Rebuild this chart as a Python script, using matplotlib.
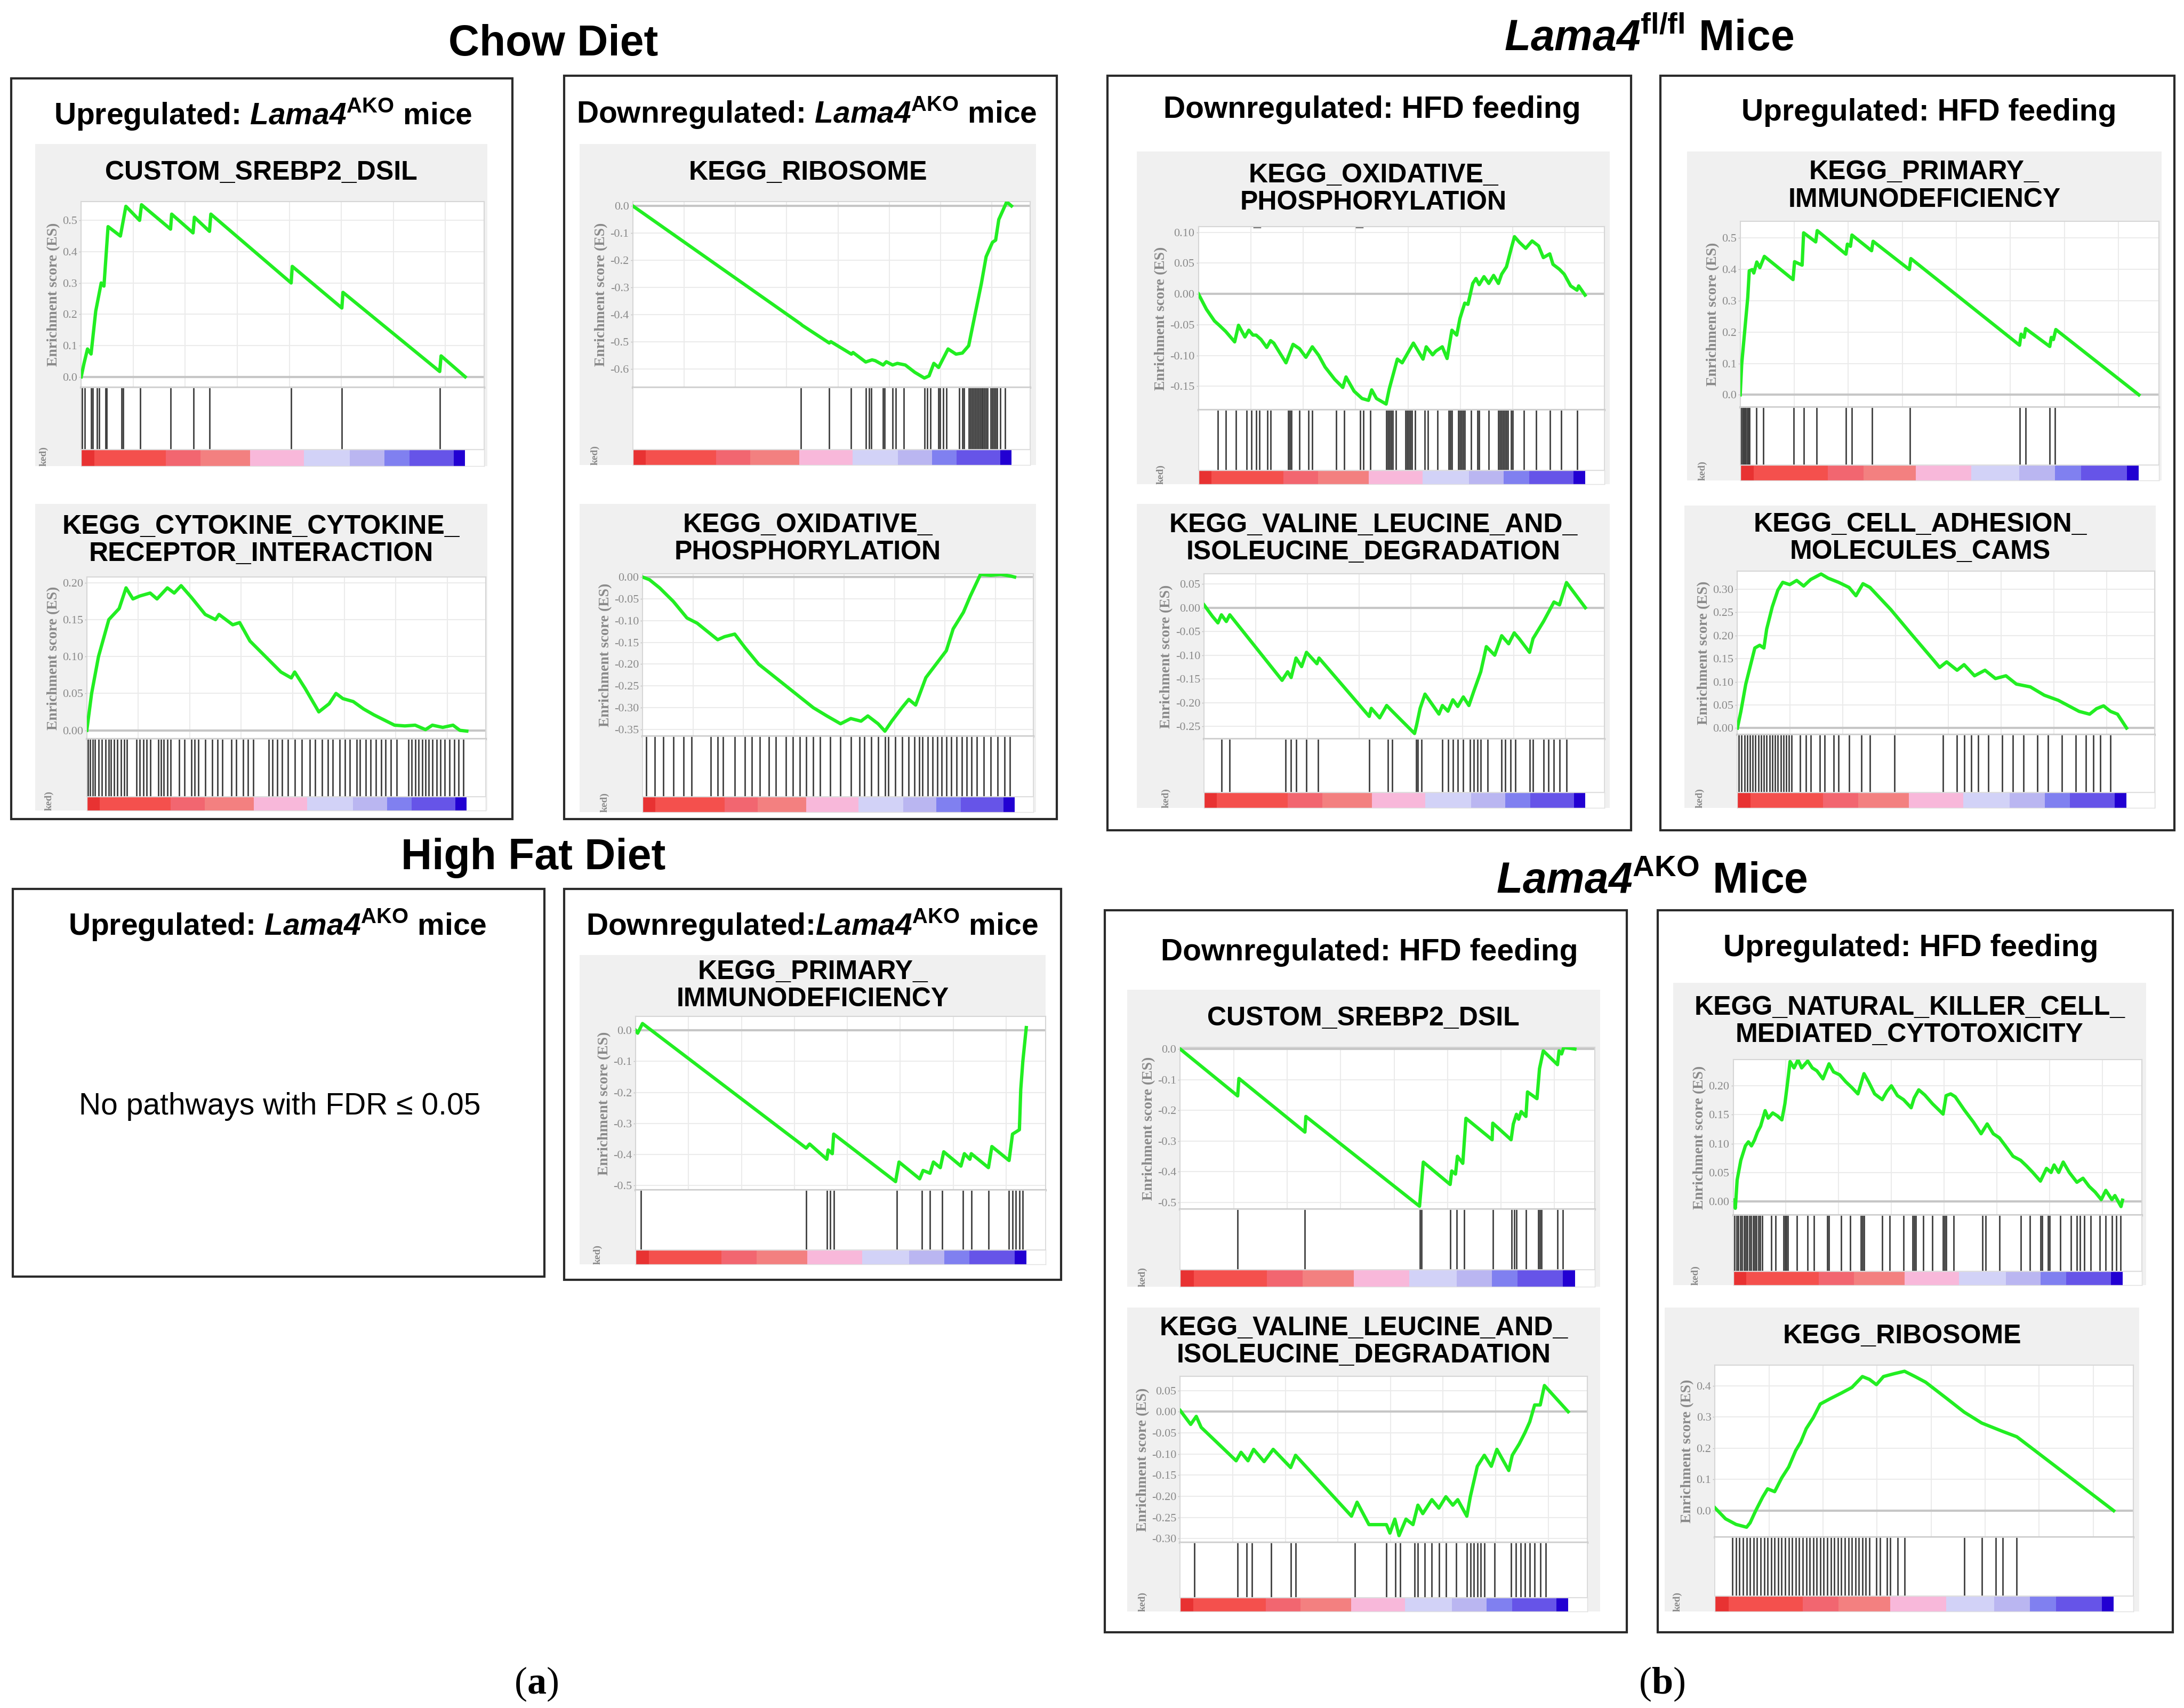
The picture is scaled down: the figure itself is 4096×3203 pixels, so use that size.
import numpy as np
import matplotlib.pyplot as plt
from matplotlib.patches import Rectangle

plt.rcParams['font.family'] = ['Liberation Sans', 'DejaVu Sans']
plt.rcParams['mathtext.fontset'] = 'custom'
plt.rcParams['mathtext.rm'] = 'Liberation Sans:italic:bold'
plt.rcParams['mathtext.sf'] = 'Liberation Sans:bold'
plt.rcParams['mathtext.bf'] = 'Liberation Serif:bold'

# ---- data (rank position in list, enrichment score) ----
# (a) chow diet, upregulated
srebp2_chow_rank = [42, 52, 65, 78, 95, 115, 125, 140, 185, 205, 255, 262, 368, 372, 450, 455,
                    510, 515, 808, 812, 993, 997, 1350, 1355, 1443]
srebp2_chow_es = [0.0, 0.042, 0.089, 0.073, 0.21, 0.30, 0.29, 0.48, 0.45, 0.545, 0.50, 0.55, 0.472,
                  0.52, 0.46, 0.51, 0.465, 0.52, 0.30, 0.353, 0.22, 0.27, 0.017, 0.067, 0.0]
srebp2_chow_hits = [45, 55, 78, 85, 100, 108, 130, 135, 190, 196, 258, 368, 452, 510, 808, 993, 1350]
srebp2_chow_span = (42, 1443)

cytokine_rank = [128, 135, 145, 160, 175, 185, 195, 205, 220, 230, 245, 255, 265, 280, 300, 315,
                 320, 340, 350, 365, 380, 395, 410, 425, 430, 445, 465, 480, 490, 500, 515, 530,
                 545, 560, 575, 590, 605, 620, 630, 645, 660, 670, 680]
cytokine_es = [0.0, 0.05, 0.10, 0.15, 0.165, 0.193, 0.178, 0.182, 0.186, 0.178, 0.193, 0.186, 0.196,
               0.18, 0.157, 0.15, 0.157, 0.143, 0.146, 0.121, 0.107, 0.093, 0.079, 0.071, 0.079,
               0.057, 0.025, 0.036, 0.05, 0.043, 0.039, 0.029, 0.021, 0.014, 0.007, 0.006, 0.007,
               0.001, 0.007, 0.004, 0.007, 0.0, -0.001]
cytokine_hits = [130, 133, 137, 140, 145, 150, 155, 160, 163, 168, 172, 178, 182, 186, 200, 205, 210,
                 215, 220, 232, 236, 240, 245, 250, 262, 270, 280, 285, 290, 300, 310, 318, 325, 338,
                 345, 355, 362, 370, 392, 398, 405, 412, 420, 430, 440, 452, 460, 470, 478, 485, 495,
                 503, 510, 520, 525, 533, 540, 548, 556, 562, 570, 578, 595, 600, 605, 610, 615, 620,
                 625, 630, 636, 642, 648, 655, 662, 668, 675]
cytokine_span = (128, 680)

# (a) chow diet, downregulated
ribo_chow_rank = [210, 740, 745, 830, 835, 900, 905, 945, 965, 975, 1000, 1010, 1030, 1045, 1070,
                  1100, 1130, 1145, 1160, 1175, 1205, 1230, 1250, 1270, 1290, 1310, 1325, 1345,
                  1355, 1365, 1390, 1405]
ribo_chow_es = [0.0, -0.435, -0.44, -0.505, -0.50, -0.546, -0.54, -0.575, -0.567, -0.57, -0.586,
                -0.574, -0.586, -0.58, -0.586, -0.613, -0.634, -0.626, -0.58, -0.595, -0.527,
                -0.546, -0.542, -0.515, -0.40, -0.286, -0.187, -0.134, -0.126, -0.05, 0.015, 0.0]
ribo_chow_hits = [740, 830, 898, 945, 955, 962, 1000, 1005, 1030, 1040, 1065, 1130, 1140, 1150, 1175,
                  1180, 1190, 1200, 1240, 1250, 1255, 1270, 1275, 1280, 1285, 1290, 1295, 1300, 1305,
                  1310, 1315, 1320, 1325, 1330, 1340, 1345, 1350, 1355, 1360, 1370, 1385]
ribo_chow_span = (210, 1405)

oxphos_chow_rank = [940, 950, 965, 985, 1005, 1020, 1035, 1050, 1060, 1075, 1090, 1110, 1130, 1150,
                    1170, 1190, 1210, 1230, 1245, 1260, 1270, 1285, 1295, 1305, 1320, 1330, 1340,
                    1355, 1370, 1385, 1395, 1410, 1420, 1435, 1450, 1465, 1480, 1485]
oxphos_chow_es = [0.0, -0.006, -0.025, -0.056, -0.094, -0.106, -0.125, -0.144, -0.137, -0.131,
                  -0.162, -0.2, -0.225, -0.25, -0.275, -0.3, -0.319, -0.337, -0.325, -0.331, -0.319,
                  -0.337, -0.354, -0.331, -0.3, -0.281, -0.294, -0.231, -0.2, -0.169, -0.119, -0.081,
                  -0.044, 0.006, 0.004, 0.006, 0.002, 0.0]
oxphos_chow_hits = [945, 958, 970, 985, 1000, 1012, 1040, 1050, 1058, 1075, 1090, 1100, 1112, 1125,
                    1135, 1150, 1160, 1170, 1180, 1190, 1200, 1215, 1230, 1245, 1258, 1265, 1275, 1285,
                    1295, 1300, 1310, 1320, 1330, 1338, 1345, 1350, 1358, 1365, 1372, 1378, 1385, 1392,
                    1400, 1408, 1415, 1422, 1430, 1440, 1450, 1460, 1470, 1478]
oxphos_chow_span = (940, 1485)

# (a) high fat diet, downregulated
primary_hfd_rank = [932, 935, 942, 1180, 1185, 1210, 1212, 1218, 1220, 1310, 1315, 1345, 1350, 1360,
                    1365, 1375, 1380, 1405, 1410, 1418, 1420, 1445, 1450, 1475, 1480, 1490, 1492,
                    1495, 1500]
primary_hfd_es = [0.0, -0.009, 0.022, -0.379, -0.366, -0.415, -0.385, -0.397, -0.334, -0.487, -0.424,
                  -0.478, -0.451, -0.46, -0.424, -0.442, -0.391, -0.437, -0.397, -0.415, -0.397,
                  -0.442, -0.374, -0.419, -0.334, -0.32, -0.19, -0.1, 0.009]
primary_hfd_hits = [940, 1180, 1210, 1215, 1220, 1312, 1348, 1360, 1378, 1408, 1420, 1445, 1475, 1480,
                    1485, 1490, 1495]
primary_hfd_span = (932, 1500)

# (b) Lama4 fl/fl mice
oxphos_fl_rank = [205, 230, 255, 270, 290, 318, 330, 350, 362, 375, 385, 400, 418, 430, 440, 460, 478,
                  500, 520, 540, 560, 580, 600, 630, 655, 665, 690, 715, 735, 745, 760, 790, 800, 812,
                  825, 840, 875, 905, 915, 935, 945, 965, 980, 995, 1010, 1020, 1035, 1045, 1060,
                  1070, 1080, 1095, 1110, 1125, 1140, 1150, 1165, 1180, 1190, 1205, 1225, 1245,
                  1265, 1280, 1300, 1310, 1330, 1345, 1365, 1385, 1390, 1410]
oxphos_fl_es = [0.0, -0.025, -0.044, -0.051, -0.061, -0.078, -0.051, -0.070, -0.059, -0.067, -0.067,
                -0.074, -0.087, -0.076, -0.080, -0.097, -0.112, -0.082, -0.089, -0.103, -0.086, -0.10,
                -0.119, -0.139, -0.152, -0.135, -0.158, -0.17, -0.173, -0.156, -0.17, -0.179, -0.154,
                -0.131, -0.106, -0.112, -0.080, -0.106, -0.086, -0.099, -0.093, -0.086, -0.105,
                -0.059, -0.067, -0.04, -0.015, -0.017, 0.017, 0.025, 0.015, 0.028, 0.017, 0.030,
                0.017, 0.032, 0.044, 0.074, 0.093, 0.084, 0.074, 0.086, 0.078, 0.059, 0.065, 0.048,
                0.040, 0.032, 0.013, 0.006, 0.013, -0.002]
oxphos_fl_hits = [265, 290, 322, 355, 370, 385, 395, 420, 430, 485, 490, 495, 520, 548, 560, 635, 660,
                  710, 720, 740, 790, 795, 800, 805, 810, 820, 850, 855, 860, 865, 870, 880, 910, 920,
                  950, 985, 990, 995, 1015, 1020, 1025, 1030, 1035, 1055, 1075, 1080, 1110, 1140,
                  1145, 1150, 1155, 1160, 1165, 1170, 1180, 1185, 1220, 1258, 1300, 1335, 1385]
oxphos_fl_span = (205, 1410)

valine_fl_rank = [158, 170, 178, 183, 190, 195, 270, 278, 283, 290, 298, 305, 320, 323, 395, 398, 410,
                  420, 428, 460, 463, 468, 475, 495, 500, 508, 515, 522, 530, 538, 545, 555, 563, 575,
                  585, 595, 603, 610, 625, 630, 645, 660, 668, 678, 705]
valine_fl_es = [0.006, -0.018, -0.032, -0.015, -0.029, -0.015, -0.153, -0.135, -0.147, -0.106, -0.124,
                -0.094, -0.118, -0.106, -0.229, -0.212, -0.232, -0.206, -0.218, -0.265, -0.247,
                -0.212, -0.182, -0.224, -0.206, -0.218, -0.194, -0.208, -0.188, -0.206, -0.176,
                -0.135, -0.082, -0.1, -0.059, -0.076, -0.053, -0.065, -0.094, -0.065, -0.029, 0.012,
                0.006, 0.053, 0.0]
valine_fl_hits = [183, 195, 275, 283, 290, 305, 322, 395, 422, 428, 462, 465, 470, 500, 508, 515, 522,
                  530, 540, 545, 550, 555, 565, 585, 590, 598, 605, 625, 630, 645, 652, 660, 668, 678]
valine_fl_span = (158, 705)

primary_fl_rank = [175, 180, 190, 200, 205, 215, 220, 230, 240, 255, 350, 355, 380, 385, 425, 430, 525,
                   530, 540, 545, 610, 615, 735, 740, 1100, 1105, 1115, 1120, 1200, 1205, 1212, 1220,
                   1495]
primary_fl_es = [0.0, 0.098, 0.204, 0.31, 0.395, 0.399, 0.388, 0.423, 0.405, 0.441, 0.367, 0.424,
                 0.413, 0.516, 0.487, 0.523, 0.448, 0.48, 0.473, 0.509, 0.459, 0.489, 0.399, 0.434,
                 0.158, 0.193, 0.183, 0.211, 0.154, 0.183, 0.176, 0.208, 0.0]
primary_fl_hits = [178, 182, 186, 190, 194, 198, 202, 206, 228, 252, 352, 385, 428, 525, 545, 612, 737,
                   1100, 1120, 1200, 1218]
primary_fl_span = (175, 1495)

cams_fl_rank = [920, 925, 932, 940, 945, 952, 958, 962, 970, 978, 985, 995, 1005, 1015, 1025, 1040,
                1050, 1065, 1080, 1090, 1100, 1110, 1140, 1170, 1200, 1210, 1220, 1235, 1245, 1260,
                1275, 1290, 1305, 1320, 1340, 1360, 1380, 1395, 1410, 1425, 1435, 1445, 1455, 1465,
                1478]
cams_fl_es = [0.0, 0.036, 0.095, 0.143, 0.173, 0.179, 0.173, 0.214, 0.262, 0.298, 0.315, 0.310,
              0.319, 0.307, 0.321, 0.333, 0.324, 0.315, 0.304, 0.286, 0.312, 0.304, 0.256, 0.202,
              0.149, 0.131, 0.143, 0.125, 0.137, 0.113, 0.125, 0.107, 0.113, 0.095, 0.089, 0.071,
              0.06, 0.048, 0.036, 0.03, 0.042, 0.048, 0.036, 0.030, 0.0]
cams_fl_hits = [922, 926, 930, 934, 938, 942, 946, 950, 954, 958, 962, 966, 970, 974, 978, 982, 986,
                990, 994, 998, 1010, 1018, 1025, 1038, 1045, 1058, 1065, 1080, 1098, 1110, 1145, 1215,
                1235, 1245, 1255, 1265, 1280, 1300, 1315, 1330, 1350, 1365, 1385, 1405, 1420, 1430,
                1440, 1455]
cams_fl_span = (920, 1478)

# (b) Lama4 AKO mice
srebp2_ako_rank = [180, 362, 366, 575, 578, 938, 950, 1035, 1040, 1052, 1058, 1075, 1085, 1168, 1170,
                   1228, 1235, 1245, 1252, 1260, 1275, 1280, 1310, 1318, 1330, 1375, 1380, 1388,
                   1395, 1430]
srebp2_ako_es = [0.0, -0.153, -0.096, -0.271, -0.22, -0.513, -0.369, -0.442, -0.398, -0.408, -0.35,
                 -0.373, -0.226, -0.296, -0.242, -0.296, -0.245, -0.213, -0.229, -0.204, -0.22, -0.14,
                 -0.162, -0.064, -0.006, -0.051, -0.006, -0.016, 0.006, 0.0]
srebp2_ako_hits = [362, 575, 940, 945, 1035, 1055, 1080, 1170, 1230, 1238, 1245, 1275, 1315, 1320,
                   1325, 1375, 1392]
srebp2_ako_span = (180, 1430)

valine_ako_rank = [125, 140, 148, 155, 205, 212, 222, 230, 245, 258, 283, 290, 370, 378, 395, 420,
                   425, 432, 438, 448, 458, 465, 472, 485, 495, 505, 515, 522, 535, 540, 550, 560,
                   570, 578, 595, 600, 610, 618, 625, 632, 640, 646, 680]
valine_ako_es = [0.003, -0.03, -0.011, -0.037, -0.116, -0.096, -0.116, -0.089, -0.118, -0.089,
                 -0.132, -0.103, -0.247, -0.214, -0.267, -0.267, -0.287, -0.254, -0.293, -0.254,
                 -0.267, -0.221, -0.241, -0.208, -0.228, -0.201, -0.221, -0.208, -0.247, -0.201,
                 -0.129, -0.103, -0.129, -0.089, -0.139, -0.103, -0.076, -0.05, -0.024, 0.016,
                 0.016, 0.062, 0.0]
valine_ako_hits = [145, 207, 220, 228, 255, 283, 290, 375, 420, 433, 440, 460, 465, 475, 485, 495, 505,
                   520, 535, 540, 545, 550, 555, 560, 575, 598, 605, 612, 618, 625, 632, 640, 648]
valine_ako_span = (125, 680)

nk_rank = [205, 212, 218, 230, 245, 255, 265, 275, 285, 295, 310, 320, 335, 350, 365, 375, 385, 392,
           405, 418, 430, 450, 465, 480, 500, 520, 535, 555, 575, 595, 615, 635, 650, 670, 695, 710,
           725, 745, 765, 790, 800, 815, 835, 860, 895, 905, 920, 935, 965, 995, 1020, 1040, 1060,
           1080, 1100, 1125, 1150, 1170, 1190, 1215, 1235, 1250, 1260, 1275, 1290, 1310, 1335, 1355,
           1375, 1395, 1415, 1430, 1450, 1460, 1480, 1485]
nk_es = [0.002, -0.012, 0.037, 0.071, 0.096, 0.103, 0.096, 0.106, 0.12, 0.13, 0.157, 0.144, 0.153,
         0.148, 0.141, 0.169, 0.211, 0.242, 0.231, 0.245, 0.231, 0.243, 0.231, 0.226, 0.212, 0.238,
         0.224, 0.219, 0.207, 0.197, 0.186, 0.221, 0.207, 0.186, 0.176, 0.19, 0.2, 0.183, 0.176,
         0.162, 0.179, 0.193, 0.184, 0.169, 0.151, 0.183, 0.186, 0.181, 0.158, 0.137, 0.117, 0.134,
         0.117, 0.110, 0.096, 0.078, 0.071, 0.061, 0.05, 0.035, 0.057, 0.05, 0.063, 0.05, 0.068,
         0.05, 0.033, 0.04, 0.026, 0.016, 0.003, 0.019, 0.003, 0.01, -0.009, 0.002]
nk_hits = [210, 216, 222, 228, 234, 240, 246, 252, 258, 264, 270, 276, 282, 288, 294, 300, 330, 345,
           370, 375, 380, 385, 415, 450, 470, 515, 520, 560, 590, 625, 630, 635, 695, 720, 765, 795,
           800, 805, 830, 860, 895, 900, 905, 930, 1025, 1035, 1080, 1150, 1180, 1215, 1220, 1240,
           1245, 1280, 1315, 1335, 1345, 1360, 1380, 1410, 1430, 1450, 1465, 1478]
nk_span = (205, 1485)

ribo_ako_rank = [890, 905, 920, 935, 940, 948, 958, 965, 975, 985, 995, 1005, 1012, 1020, 1030, 1040,
                 1055, 1070, 1085, 1100, 1110, 1120, 1130, 1145, 1160, 1175, 1190, 1220, 1245, 1270,
                 1300, 1320, 1458]
ribo_ako_es = [0.009, -0.026, -0.044, -0.053, -0.039, 0.0, 0.044, 0.07, 0.061, 0.105, 0.14, 0.193,
               0.219, 0.263, 0.298, 0.342, 0.36, 0.377, 0.395, 0.43, 0.421, 0.404, 0.43, 0.439, 0.447,
               0.43, 0.412, 0.36, 0.316, 0.281, 0.254, 0.237, 0.0]
ribo_ako_hits = [915, 920, 925, 930, 935, 940, 945, 950, 955, 960, 965, 970, 975, 980, 985, 990, 995,
                 1000, 1005, 1010, 1015, 1020, 1025, 1030, 1035, 1040, 1045, 1050, 1055, 1060, 1065,
                 1070, 1075, 1080, 1085, 1090, 1095, 1100, 1105, 1110, 1120, 1125, 1135, 1140, 1150,
                 1160, 1245, 1270, 1290, 1300, 1320]
ribo_ako_span = (890, 1458)

# ranked-list colour bar (fraction of list, colour)
bar_edges = [0, 0.034, 0.22, 0.31, 0.44, 0.58, 0.70, 0.79, 0.855, 0.97, 1.0]
bar_colors = ['#e83232', '#f4504d', '#f26670', '#f38080', '#f8b8da', '#d2d2f7', '#bab6f1',
              '#8080f0', '#6654e8', '#2200d2']

# ---- figure ----
W, H = 1560.0, 1220.0
fig = plt.figure(figsize=(40.96, 32.03), dpi=100)
GREEN = '#22ee22'
GRAY_TXT = '#8a8a8a'


def frect(x0, y0, x1, y1):
    return [x0 / W, 1 - y1 / H, (x1 - x0) / W, (y1 - y0) / H]


def put(x, y, s, **kw):
    fig.text(x / W, 1 - y / H, s, **kw)


def box(x0, y0, x1, y1, **kw):
    fig.add_artist(Rectangle((x0 / W, 1 - y1 / H), (x1 - x0) / W, (y1 - y0) / H,
                             transform=fig.transFigure, **kw))


def gsea(geo, title, rank, es, hits, span, yticks, ylim, fmt, ext=1.05):
    hx0, hy0, hx1, hy1, ax0, ax1, es_bot, hit_bot, bar_bot = geo
    box(hx0, hy0, hx1, bar_bot, fc='#f0f0f0', ec='none', zorder=-5)
    put((hx0 + hx1) / 2, (hy0 + hy1) / 2, title, ha='center', va='center',
        fontsize=36, weight='bold', linespacing=1.15)
    L = span[1] - span[0]
    xlim = (span[0], span[0] + L * ext)
    grid_x = span[0] + L * 0.1355 * np.arange(1, 8)

    # running enrichment score
    ax = fig.add_axes(frect(ax0, hy1, ax1, es_bot))
    ax.set_facecolor('white')
    for gx in grid_x:
        ax.axvline(gx, color='#ebebeb', lw=1.5, zorder=0)
    ax.set_yticks(yticks)
    ax.yaxis.grid(True, color='#ebebeb', lw=1.5)
    ax.set_axisbelow(True)
    ax.axhline(0, color='#c6c6c6', lw=3, zorder=1)
    ax.plot(rank, es, color=GREEN, lw=4.5, zorder=3)
    ax.set_xlim(xlim)
    ax.set_ylim(ylim)
    ax.set_xticks([])
    ax.set_yticklabels([fmt % t for t in yticks], family='Liberation Serif', fontsize=16,
                       color=GRAY_TXT)
    ax.tick_params(axis='y', length=3, width=1, color='#c0c0c0', pad=2)
    ax.set_ylabel('Enrichment score (ES)', family='Liberation Serif', weight='bold',
                  fontsize=20, color=GRAY_TXT, labelpad=3)
    for s in ax.spines.values():
        s.set_color('#d6d6d6')
        s.set_linewidth(1.5)
    ax.spines['bottom'].set_color('#c6c6c6')
    ax.spines['bottom'].set_linewidth(3)

    # hit positions
    hx = fig.add_axes(frect(ax0, es_bot, ax1, hit_bot))
    hx.vlines(hits, 0, 1, color='#404040', lw=2.0)
    hx.set_xlim(xlim)
    hx.set_ylim(0, 1)
    hx.set_xticks([])
    hx.set_yticks([])
    for s in hx.spines.values():
        s.set_color('#d6d6d6')
        s.set_linewidth(1.2)

    # ranked list metric bar
    bx = fig.add_axes(frect(ax0, hit_bot, ax1, bar_bot))
    for e0, e1, c in zip(bar_edges[:-1], bar_edges[1:], bar_colors):
        bx.axvspan(span[0] + e0 * L, span[0] + e1 * L, color=c, lw=0)
    bx.set_xlim(xlim)
    bx.set_xticks([])
    bx.set_yticks([])
    for s in bx.spines.values():
        s.set_color('#e0e0e0')
        s.set_linewidth(1.0)
    put(ax0 - 27, bar_bot, 'ked)', rotation=90, ha='center', va='bottom',
        family='Liberation Serif', weight='bold', fontsize=14, color=GRAY_TXT)


# section titles
put(395, 39.5, 'Chow Diet', ha='center', va='baseline', fontsize=58, weight='bold')
put(381, 621, 'High Fat Diet', ha='center', va='baseline', fontsize=58, weight='bold')
put(1178, 36, r'$\mathrm{Lama4}^{\mathsf{fl/fl}}$ Mice', ha='center', va='baseline',
    fontsize=58, weight='bold')
put(1180, 638, r'$\mathrm{Lama4}^{\mathsf{AKO}}$ Mice', ha='center', va='baseline',
    fontsize=58, weight='bold')

# outer boxes
for b in [(8, 56, 366, 585), (403, 54, 755, 585), (9, 635, 389, 912), (403, 635, 758, 914),
          (791, 54, 1165, 593), (1186, 54, 1553, 593), (789, 650, 1162, 1166),
          (1184, 650, 1552, 1166)]:
    box(*b, fill=False, ec='#2a2a2a', lw=3, zorder=2)

ako = r'$\mathrm{Lama4}^{\mathsf{AKO}}$'
subs = [(188, 89, 'Upregulated: ' + ako + ' mice'),
        (576, 88, 'Downregulated: ' + ako + ' mice'),
        (198, 668, 'Upregulated: ' + ako + ' mice'),
        (580, 668, 'Downregulated:' + ako + ' mice'),
        (980, 84, 'Downregulated: HFD feeding'),
        (1378, 86, 'Upregulated: HFD feeding'),
        (978, 686, 'Downregulated: HFD feeding'),
        (1365, 683, 'Upregulated: HFD feeding')]
for x, y, s in subs:
    put(x, y, s, ha='center', va='baseline', fontsize=41, weight='bold')

put(200, 796, 'No pathways with FDR \u2264 0.05', ha='center', va='baseline', fontsize=41)

# GSEA panels
t1 = [0.0, 0.1, 0.2, 0.3, 0.4, 0.5]
gsea((25, 103, 348, 144, 58, 346, 277, 321, 333), 'CUSTOM_SREBP2_DSIL',
     srebp2_chow_rank, srebp2_chow_es, srebp2_chow_hits, srebp2_chow_span,
     t1, (-0.035, 0.56), '%.1f')
gsea((25, 360, 348, 412, 62, 347, 528, 569, 579), 'KEGG_CYTOKINE_CYTOKINE_\nRECEPTOR_INTERACTION',
     cytokine_rank, cytokine_es, cytokine_hits, cytokine_span,
     [0.0, 0.05, 0.10, 0.15, 0.20], (-0.012, 0.208), '%.2f')
gsea((414, 103, 740, 144, 452, 736, 277, 321, 332), 'KEGG_RIBOSOME',
     ribo_chow_rank, ribo_chow_es, ribo_chow_hits, ribo_chow_span,
     [-0.6, -0.5, -0.4, -0.3, -0.2, -0.1, 0.0], (-0.67, 0.016), '%.1f')
gsea((414, 360, 740, 410, 459, 738, 526, 569, 580), 'KEGG_OXIDATIVE_\nPHOSPHORYLATION',
     oxphos_chow_rank, oxphos_chow_es, oxphos_chow_hits, oxphos_chow_span,
     [-0.35, -0.30, -0.25, -0.20, -0.15, -0.10, -0.05, 0.0], (-0.366, 0.007), '%.2f')
gsea((414, 682, 747, 726, 454, 747, 850, 893, 903), 'KEGG_PRIMARY_\nIMMUNODEFICIENCY',
     primary_hfd_rank, primary_hfd_es, primary_hfd_hits, primary_hfd_span,
     [-0.5, -0.4, -0.3, -0.2, -0.1, 0.0], (-0.514, 0.045), '%.1f')

gsea((812, 108, 1150, 162, 856, 1146, 293, 336, 346), 'KEGG_OXIDATIVE_\nPHOSPHORYLATION',
     oxphos_fl_rank, oxphos_fl_es, oxphos_fl_hits, oxphos_fl_span,
     [-0.15, -0.10, -0.05, 0.0, 0.05, 0.10], (-0.189, 0.109), '%.2f')
put(898, 163, '_', ha='center', va='bottom', fontsize=18, color='#555555')
put(971, 163, '_', ha='center', va='bottom', fontsize=18, color='#555555')
gsea((812, 360, 1150, 410, 860, 1146, 528, 566, 577), 'KEGG_VALINE_LEUCINE_AND_\nISOLEUCINE_DEGRADATION',
     valine_fl_rank, valine_fl_es, valine_fl_hits, valine_fl_span,
     [-0.25, -0.20, -0.15, -0.10, -0.05, 0.0, 0.05], (-0.277, 0.071), '%.2f')
gsea((1205, 108, 1544, 158, 1243, 1542, 291, 332, 343), 'KEGG_PRIMARY_\nIMMUNODEFICIENCY',
     primary_fl_rank, primary_fl_es, primary_fl_hits, primary_fl_span,
     t1, (-0.04, 0.553), '%.1f')
gsea((1203, 361, 1540, 408, 1241, 1539, 525, 566, 577), 'KEGG_CELL_ADHESION_\nMOLECULES_CAMS',
     cams_fl_rank, cams_fl_es, cams_fl_hits, cams_fl_span,
     [0.0, 0.05, 0.10, 0.15, 0.20, 0.25, 0.30], (-0.015, 0.339), '%.2f', ext=1.072)

gsea((805, 707, 1143, 748, 843, 1139, 864, 907, 919), 'CUSTOM_SREBP2_DSIL',
     srebp2_ako_rank, srebp2_ako_es, srebp2_ako_hits, srebp2_ako_span,
     [-0.5, -0.4, -0.3, -0.2, -0.1, 0.0], (-0.524, 0.006), '%.1f')
gsea((805, 934, 1143, 983, 843, 1134, 1102, 1141, 1151), 'KEGG_VALINE_LEUCINE_AND_\nISOLEUCINE_DEGRADATION',
     valine_ako_rank, valine_ako_es, valine_ako_hits, valine_ako_span,
     [-0.30, -0.25, -0.20, -0.15, -0.10, -0.05, 0.0, 0.05], (-0.31, 0.084), '%.2f')
gsea((1195, 702, 1533, 757, 1238, 1530, 868, 908, 918), 'KEGG_NATURAL_KILLER_CELL_\nMEDIATED_CYTOTOXICITY',
     nk_rank, nk_es, nk_hits, nk_span,
     [0.0, 0.05, 0.10, 0.15, 0.20], (-0.024, 0.245), '%.2f')
gsea((1189, 934, 1528, 975, 1225, 1524, 1098, 1140, 1151), 'KEGG_RIBOSOME',
     ribo_ako_rank, ribo_ako_es, ribo_ako_hits, ribo_ako_span,
     [0.0, 0.1, 0.2, 0.3, 0.4], (-0.085, 0.467), '%.1f')

# panel letters
put(383, 1203, r'($\mathbf{a}$)', ha='center', va='center', fontsize=52, family='Liberation Serif')
put(1187, 1203, r'($\mathbf{b}$)', ha='center', va='center', fontsize=52, family='Liberation Serif')

fig.savefig('out.png', dpi=100, facecolor='white')
